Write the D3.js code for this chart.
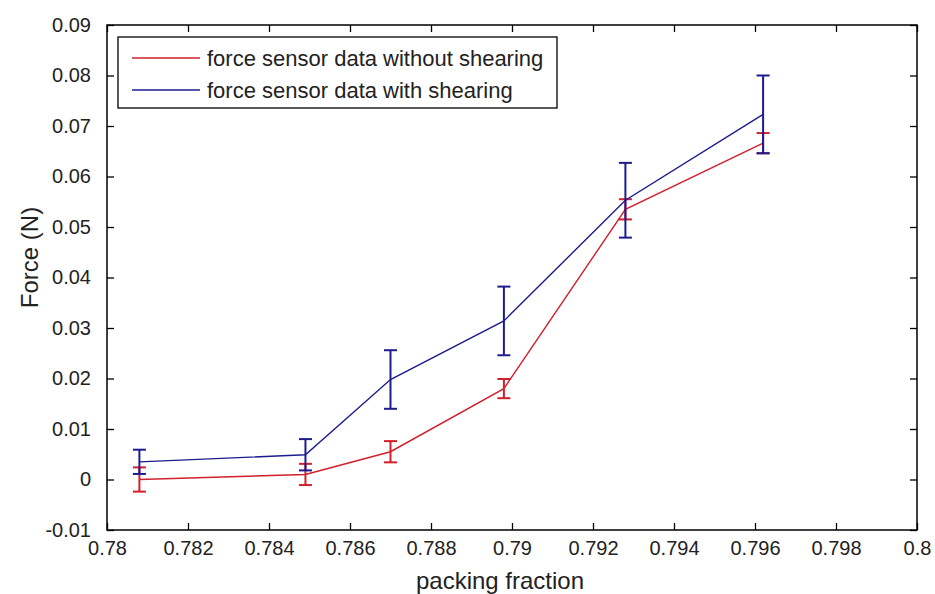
<!DOCTYPE html>
<html>
<head>
<meta charset="utf-8">
<script src="https://cdn.jsdelivr.net/npm/d3@7"></script>
<style>
  html, body { margin: 0; padding: 0; background: #fff; }
  svg { display: block; }
  text { font-family: "Liberation Sans", Arial, sans-serif; fill: #222; }
</style>
</head>
<body>
<svg id="chart" width="935" height="594"></svg>
<script>
// Packing fraction at each measurement
const packing = [0.7808, 0.7849, 0.7870, 0.7898, 0.7928, 0.7962];

// Mean force (N) and error half-width, without shearing
const forceNoShear = [0.0000, 0.0010, 0.0055, 0.0180, 0.0535, 0.0666];
const errNoShear   = [0.0024, 0.0021, 0.0021, 0.0019, 0.0020, 0.0020];

// Mean force (N) and error half-width, with shearing
const forceShear = [0.0035, 0.0049, 0.0198, 0.0314, 0.0553, 0.0723];
const errShear   = [0.0024, 0.0031, 0.0058, 0.0068, 0.0074, 0.0077];

// Axis ticks
const xTicks = [0.78, 0.782, 0.784, 0.786, 0.788, 0.79, 0.792, 0.794, 0.796, 0.798, 0.8];
const xTickLabels = ["0.78", "0.782", "0.784", "0.786", "0.788", "0.79", "0.792", "0.794", "0.796", "0.798", "0.8"];
const yTicks = [-0.01, 0, 0.01, 0.02, 0.03, 0.04, 0.05, 0.06, 0.07, 0.08, 0.09];
const yTickLabels = ["-0.01", "0", "0.01", "0.02", "0.03", "0.04", "0.05", "0.06", "0.07", "0.08", "0.09"];

const seriesNames = ["force sensor data without shearing", "force sensor data with shearing"];
const colors = ["#d21f2b", "#1c1c8f"];

const svg = d3.select("#chart");
const plot = { left: 107, right: 917, top: 25, bottom: 530 };

const x = d3.scaleLinear().domain([0.78, 0.8]).range([plot.left, plot.right]);
const y = d3.scaleLinear().domain([-0.01, 0.09]).range([plot.bottom, plot.top]);

const tickLen = 7;
const fontSize = 20;

// Bottom axis with labels, inward ticks
const xAxis = d3.axisBottom(x).tickValues(xTicks)
  .tickFormat((d, i) => xTickLabels[i]).tickSizeInner(-tickLen).tickSizeOuter(0).tickPadding(tickLen + 4);
const gx = svg.append("g").attr("transform", `translate(0,${plot.bottom})`).call(xAxis);
gx.select(".domain").remove();
gx.selectAll("line").attr("stroke", "#000").attr("stroke-width", 1.3);
gx.selectAll("text").attr("font-size", fontSize).attr("fill", "#222");

// Top axis ticks only
const gxt = svg.append("g").attr("transform", `translate(0,${plot.top})`)
  .call(d3.axisTop(x).tickValues(xTicks).tickFormat("").tickSizeInner(-tickLen).tickSizeOuter(0));
gxt.select(".domain").remove();
gxt.selectAll("line").attr("stroke", "#000").attr("stroke-width", 1.3);

// Left axis with labels
const yAxis = d3.axisLeft(y).tickValues(yTicks)
  .tickFormat((d, i) => yTickLabels[i]).tickSizeInner(-tickLen).tickSizeOuter(0).tickPadding(tickLen + 9);
const gy = svg.append("g").attr("transform", `translate(${plot.left},0)`).call(yAxis);
gy.select(".domain").remove();
gy.selectAll("line").attr("stroke", "#000").attr("stroke-width", 1.3);
gy.selectAll("text").attr("font-size", fontSize).attr("fill", "#222");

// Right axis ticks only
const gyr = svg.append("g").attr("transform", `translate(${plot.right},0)`)
  .call(d3.axisRight(y).tickValues(yTicks).tickFormat("").tickSizeInner(-tickLen).tickSizeOuter(0));
gyr.select(".domain").remove();
gyr.selectAll("line").attr("stroke", "#000").attr("stroke-width", 1.3);

// Axes box
svg.append("rect")
  .attr("x", plot.left).attr("y", plot.top)
  .attr("width", plot.right - plot.left).attr("height", plot.bottom - plot.top)
  .attr("fill", "none").attr("stroke", "#000").attr("stroke-width", 1.5);

// Series: line plus error bars
const series = [
  { vals: forceNoShear, errs: errNoShear, color: colors[0] },
  { vals: forceShear, errs: errShear, color: colors[1] }
];
const line = d3.line().x(d => x(d.px)).y(d => y(d.v));
const capHalf = 6.5;

series.forEach(s => {
  const pts = packing.map((px, i) => ({ px, v: s.vals[i], e: s.errs[i] }));
  const g = svg.append("g");
  g.append("path").datum(pts).attr("d", line)
    .attr("fill", "none").attr("stroke", s.color).attr("stroke-width", 1.4);
  const eb = g.selectAll(".eb").data(pts).enter().append("g").attr("class", "eb")
    .attr("stroke", s.color).attr("stroke-width", 2);
  eb.append("line")
    .attr("x1", d => x(d.px)).attr("x2", d => x(d.px))
    .attr("y1", d => y(d.v - d.e)).attr("y2", d => y(d.v + d.e));
  eb.append("line")
    .attr("x1", d => x(d.px) - capHalf).attr("x2", d => x(d.px) + capHalf)
    .attr("y1", d => y(d.v + d.e)).attr("y2", d => y(d.v + d.e));
  eb.append("line")
    .attr("x1", d => x(d.px) - capHalf).attr("x2", d => x(d.px) + capHalf)
    .attr("y1", d => y(d.v - d.e)).attr("y2", d => y(d.v - d.e));
});

// Legend
const legend = svg.append("g").attr("transform", "translate(118,37)");
legend.append("rect").attr("width", 439).attr("height", 71)
  .attr("fill", "#fff").attr("stroke", "#000").attr("stroke-width", 1.3);
seriesNames.forEach((name, i) => {
  const cy = 21 + i * 32;
  legend.append("line").attr("x1", 14).attr("x2", 82).attr("y1", cy).attr("y2", cy)
    .attr("stroke", colors[i]).attr("stroke-width", 1.5);
  legend.append("text").attr("x", 89).attr("y", cy).attr("dy", "0.35em")
    .attr("font-size", 22).text(name);
});

// Axis titles
svg.append("text").attr("x", (plot.left + plot.right) / 2 - 12).attr("y", 581)
  .attr("text-anchor", "middle").attr("dy", "0.35em").attr("font-size", 24).text("packing fraction");
svg.append("text").attr("transform", `translate(30,${(plot.top + plot.bottom) / 2 - 20}) rotate(-90)`)
  .attr("text-anchor", "middle").attr("dy", "0.35em").attr("font-size", 24).text("Force (N)");
</script>
</body>
</html>
